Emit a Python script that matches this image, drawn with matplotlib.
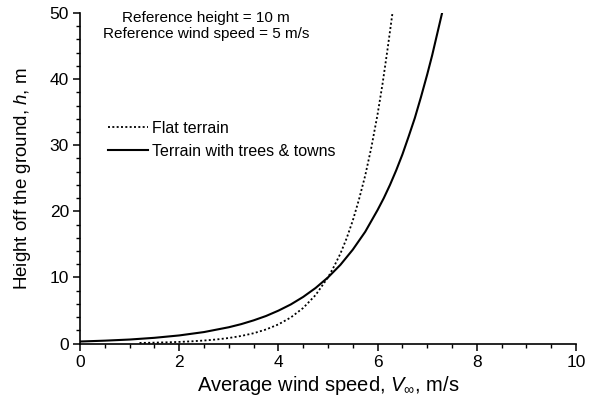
import matplotlib
matplotlib.use("Agg")
import matplotlib.pyplot as plt
from matplotlib.ticker import MultipleLocator

plt.rcParams['font.family'] = ['Liberation Sans', 'DejaVu Sans']
plt.rcParams['mathtext.fontset'] = 'custom'
plt.rcParams['mathtext.rm'] = 'Liberation Sans'
plt.rcParams['mathtext.it'] = 'Liberation Sans:italic'

# Flat terrain (dotted) : wind speed (m/s) vs height (m)
flat_speed = [1.2, 1.4, 1.6, 1.8, 2.0, 2.25, 2.5, 2.75, 3.0, 3.25, 3.5, 3.75, 4.0, 4.25, 4.5, 4.75,
              5.0, 5.125, 5.25, 5.375, 5.5, 5.625, 5.75, 5.875, 6.0, 6.1, 6.2, 6.3]
flat_height = [0.09, 0.11, 0.15, 0.19, 0.24, 0.33, 0.45, 0.61, 0.83, 1.14, 1.55, 2.12, 2.89, 3.94, 5.38, 7.33,
               10.0, 11.7, 13.6, 15.9, 18.6, 21.8, 25.4, 29.7, 34.7, 39.3, 44.5, 50.0]

# Terrain with trees & towns (solid)
town_speed = [0.0, 0.5, 1.0, 1.5, 2.0, 2.5, 3.0, 3.25, 3.5, 3.75, 4.0, 4.25, 4.5, 4.75, 5.0, 5.25, 5.5,
              5.75, 6.0, 6.125, 6.25, 6.375, 6.5, 6.625, 6.75, 6.875, 7.0, 7.1, 7.2, 7.3]
town_height = [0.3, 0.43, 0.6, 0.86, 1.22, 1.73, 2.46, 2.93, 3.5, 4.16, 4.97, 5.91, 7.05, 8.4, 10.0, 11.9, 14.2,
               16.9, 20.2, 22.0, 24.0, 26.2, 28.6, 31.3, 34.1, 37.3, 40.7, 43.6, 46.8, 50.0]

labels = ["Flat terrain", "Terrain with trees & towns"]
notes = ["Reference height = 10 m", "Reference wind speed = 5 m/s"]

fig = plt.figure(figsize=(5.91, 4.08), dpi=100)
ax = fig.add_axes([80/591, 1-343.5/408, 496/591, 330.5/408])

ax.plot(flat_speed, flat_height, color='black', lw=1.3, linestyle=(0, (1.1, 1.3)), label=labels[0])
ax.plot(town_speed, town_height, color='black', lw=1.5, label=labels[1])

ax.set_xlim(0, 10)
ax.set_ylim(0, 50)
ax.xaxis.set_major_locator(MultipleLocator(2))
ax.xaxis.set_minor_locator(MultipleLocator(0.5))
ax.yaxis.set_major_locator(MultipleLocator(10))
ax.yaxis.set_minor_locator(MultipleLocator(2))
ax.tick_params(which='major', length=5, width=1.1, labelsize=12.5, pad=3)
ax.tick_params(which='minor', length=3, width=1.0)
for s in ['top', 'right']:
    ax.spines[s].set_visible(False)
for s in ['left', 'bottom']:
    ax.spines[s].set_linewidth(1.2)

ax.set_xlabel(r"Average wind speed, $V_{\infty}$, m/s", fontsize=14.5, labelpad=3)
ax.set_ylabel(r"Height off the ground, $h$, m", fontsize=13.5, labelpad=12)

ax.text(206/591, 1-18/408, notes[0], transform=fig.transFigure, ha='center', va='center', fontsize=11)
ax.text(206/591, 1-34/408, notes[1], transform=fig.transFigure, ha='center', va='center', fontsize=11)

leg = ax.legend(loc='upper left', bbox_to_anchor=(108/591, 1-121/408), bbox_transform=fig.transFigure,
                frameon=False, fontsize=11.5, handlelength=2.5, handletextpad=0.25, labelspacing=0.5,
                borderaxespad=0, borderpad=0)

fig.savefig("out.png", dpi=100)
